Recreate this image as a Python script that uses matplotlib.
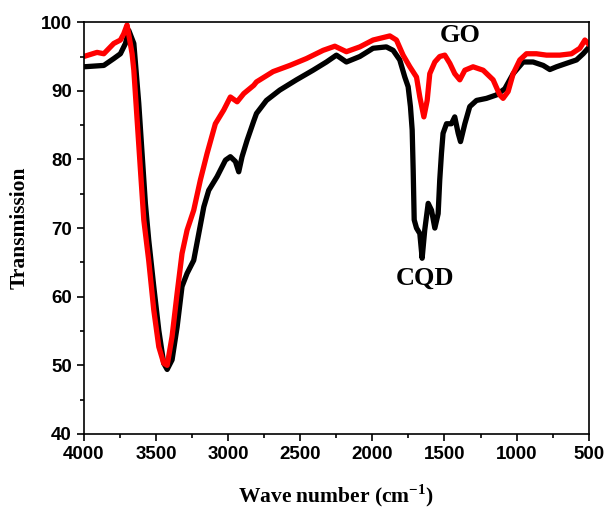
import numpy as np
import matplotlib
matplotlib.use("Agg")
import matplotlib.pyplot as plt
from matplotlib.ticker import MultipleLocator

plt.rcParams["mathtext.fontset"] = "custom"
plt.rcParams["mathtext.rm"] = "Liberation Serif"
plt.rcParams["mathtext.bf"] = "Liberation Serif:bold"

# CQD spectrum (black), wavenumber (cm-1) vs transmission
cqd_wn = [4000, 3861, 3792, 3746, 3711, 3688, 3653, 3619, 3596, 3573, 3550,
          3515, 3480, 3446, 3422, 3388, 3353, 3319, 3284, 3238, 3203, 3168,
          3134, 3076, 3018, 2984, 2949, 2926, 2903, 2868, 2822, 2803, 2734,
          2642, 2526, 2411, 2318, 2249, 2180, 2087, 1995, 1903, 1856, 1810,
          1775, 1752, 1736, 1724, 1717, 1710, 1694, 1671, 1655, 1637, 1613,
          1590, 1567, 1544, 1533, 1521, 1510, 1486, 1452, 1429, 1405, 1389,
          1359, 1325, 1278, 1209, 1140, 1082, 1024, 955, 886, 816, 770, 724,
          655, 585, 539, 505]
cqd_tr = [93.5, 93.7, 94.7, 95.4, 96.9, 98.8, 96.9, 88.2, 80.9, 73.6, 68.3,
          61.5, 55.1, 50.3, 49.4, 50.8, 55.6, 61.5, 63.4, 65.3, 69.2, 73.1,
          75.5, 77.5, 79.9, 80.4, 79.7, 78.2, 80.4, 82.8, 85.6, 86.7, 88.6,
          90.1, 91.6, 93.0, 94.2, 95.2, 94.2, 95.0, 96.2, 96.4, 95.9, 94.5,
          92.0, 90.6, 87.7, 84.3, 78.4, 71.2, 70.0, 69.2, 65.6, 69.7, 73.6,
          72.6, 70.0, 72.1, 77.0, 80.9, 83.8, 85.2, 85.2, 86.2, 83.8, 82.6,
          85.2, 87.7, 88.6, 88.9, 89.4, 90.3, 92.5, 94.2, 94.2, 93.7, 93.1,
          93.5, 94.0, 94.5, 95.4, 96.2]

# GO spectrum (red)
go_wn = [4000, 3908, 3861, 3792, 3746, 3723, 3700, 3665, 3653, 3630, 3607,
         3584, 3550, 3515, 3480, 3446, 3422, 3388, 3353, 3319, 3284, 3238,
         3192, 3145, 3088, 3030, 2984, 2937, 2891, 2822, 2803, 2688, 2572,
         2457, 2341, 2260, 2180, 2087, 1995, 1879, 1833, 1787, 1740, 1694,
         1671, 1643, 1620, 1602, 1567, 1533, 1498, 1463, 1429, 1394, 1359,
         1302, 1232, 1163, 1117, 1094, 1059, 1024, 978, 932, 863, 793, 701,
         620, 562, 527, 505]
go_tr = [95.0, 95.6, 95.4, 96.9, 97.4, 98.3, 99.6, 95.4, 93.0, 85.7, 78.4,
         71.2, 65.3, 58.1, 52.7, 50.3, 50.0, 54.2, 60.5, 66.3, 69.7, 72.6,
         77.0, 80.9, 85.2, 87.2, 89.1, 88.4, 89.6, 90.8, 91.3, 92.8, 93.7,
         94.7, 95.9, 96.5, 95.7, 96.4, 97.4, 98.0, 97.4, 95.2, 93.5, 92.0,
         89.1, 86.2, 88.6, 92.5, 94.2, 95.0, 95.2, 94.0, 92.5, 91.6, 93.0,
         93.5, 93.0, 91.6, 89.4, 88.9, 89.9, 92.5, 94.5, 95.4, 95.4, 95.2,
         95.2, 95.4, 96.2, 97.4, 96.9]

fig = plt.figure(figsize=(6.07, 5.16), dpi=100)
ax = fig.add_axes([0.138, 0.159, 0.832, 0.798])

ax.plot(cqd_wn, cqd_tr, color="black", lw=3.8, solid_joinstyle="round")
ax.plot(go_wn, go_tr, color="#ff0000", lw=3.8, solid_joinstyle="round")

ax.set_xlim(4000, 500)
ax.set_ylim(40, 100)
ax.xaxis.set_major_locator(MultipleLocator(500))
ax.xaxis.set_minor_locator(MultipleLocator(250))
ax.yaxis.set_major_locator(MultipleLocator(10))
ax.yaxis.set_minor_locator(MultipleLocator(5))
ax.tick_params(which="both", direction="out", top=False, right=False, width=1.2)
ax.tick_params(which="major", length=5, labelsize=13.5)
ax.tick_params(which="minor", length=3)
for lab in ax.get_xticklabels() + ax.get_yticklabels():
    lab.set_fontweight("bold")
    lab.set_fontfamily("Liberation Sans")
for sp in ax.spines.values():
    sp.set_linewidth(1.2)

ax.set_xlabel("Wave number (cm$^{\\mathbf{-1}}$)", fontsize=15.5, fontweight="bold",
              family="Liberation Serif", labelpad=14)
ax.set_ylabel("Transmission", fontsize=15.5, fontweight="bold",
              family="Liberation Serif", labelpad=8)

ax.text(1394, 98.1, "GO", fontsize=19, fontweight="bold", family="Liberation Serif",
        ha="center", va="center")
ax.text(1637, 62.7, "CQD", fontsize=19, fontweight="bold", family="Liberation Serif",
        ha="center", va="center")

fig.savefig("out.png", dpi=100)
